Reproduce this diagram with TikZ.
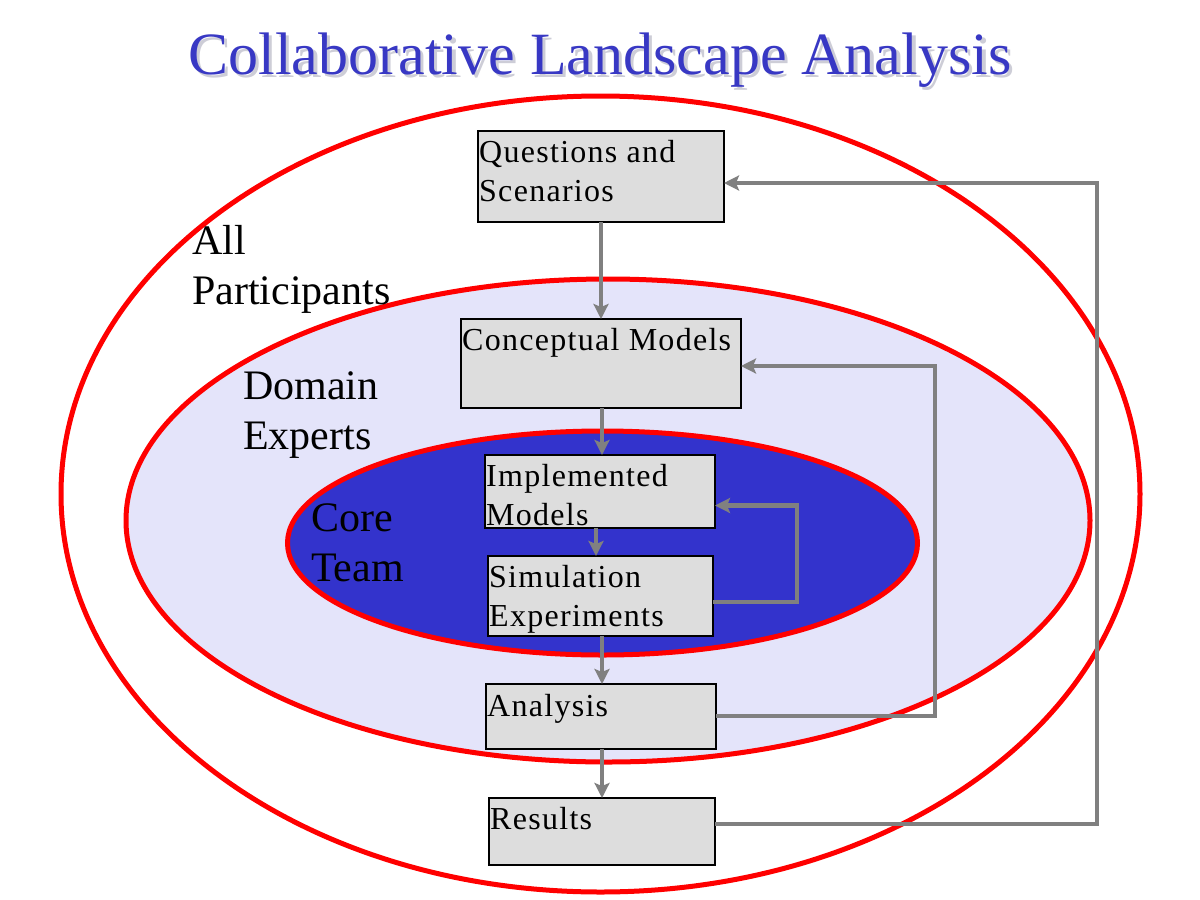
\documentclass[tikz,border=0pt]{standalone}
\usepackage{fontspec}
\setmainfont{Liberation Serif}
\newfontfamily\boxfont[LetterSpace=4]{Liberation Serif}
\usetikzlibrary{arrows.meta}
\definecolor{ringred}{RGB}{255,0,0}
\definecolor{lavender}{RGB}{228,228,250}
\definecolor{coreblue}{RGB}{51,51,204}
\definecolor{titleblue}{RGB}{56,56,196}
\definecolor{boxgray}{RGB}{221,221,221}
\definecolor{linegray}{RGB}{128,128,128}
\definecolor{shadowgray}{RGB}{205,205,215}
\tikzset{
  ring/.style={draw=ringred, line width=5pt},
  stepbox/.style={draw=black, line width=2pt, fill=boxgray, inner sep=0pt, outer sep=0pt},
  boxtxt/.style={anchor=base west, inner sep=0pt, font=\boxfont\fontsize{32}{39}\selectfont},
  grouptxt/.style={anchor=base west, inner sep=0pt, font=\fontsize{42}{50}\selectfont},
  flow/.style={draw=linegray, line width=4.5pt, -{Stealth[length=15pt,width=15pt,inset=3pt]}},
}
\begin{document}
\begin{tikzpicture}[x=1pt,y=-1pt]
\useasboundingbox (0,0) rectangle (1200,900);
\fill[white] (0,0) rectangle (1200,900);

% title
\node[anchor=base, inner sep=0pt, text=shadowgray, font=\fontsize{60}{72}\selectfont] (titleshadow) at (603.5,77.5) {Collaborative Landscape Analysis};
\node[anchor=base, inner sep=0pt, text=titleblue, font=\fontsize{60}{72}\selectfont] (title) at (600,74) {Collaborative Landscape Analysis};

% rings
\draw[ring, fill=white] (600.5,494) ellipse [x radius=539.5pt, y radius=398pt];
\draw[ring, fill=lavender] (608,520.5) ellipse [x radius=482pt, y radius=241.5pt];
\draw[ring, fill=coreblue] (602.5,543) ellipse [x radius=315pt, y radius=112pt];

% group labels
\node[grouptxt] (all1) at (192,254) {All};
\node[grouptxt] (all2) at (192,304) {Participants};
\node[grouptxt] (dom1) at (243,399) {Domain};
\node[grouptxt] (dom2) at (243,449) {Experts};
\node[grouptxt] (core1) at (311,531) {Core};
\node[grouptxt] (core2) at (311,581) {Team};

% boxes
\node[stepbox, minimum width=246pt, minimum height=91pt] (q) at (601,176.5) {};
\node[stepbox, minimum width=280pt, minimum height=89pt] (c) at (601,363.5) {};
\node[stepbox, minimum width=230pt, minimum height=73pt] (i) at (600,491.5) {};
\node[stepbox, minimum width=225pt, minimum height=80pt] (s) at (600.5,596) {};
\node[stepbox, minimum width=230pt, minimum height=65pt] (a) at (601,716.5) {};
\node[stepbox, minimum width=226pt, minimum height=67pt] (r) at (602,831.5) {};

% box texts
\node[boxtxt] (q1) at (479,162) {Questions and};
\node[boxtxt] (q2) at (479,201) {Scenarios};
\node[boxtxt] (c1) at (462,350) {Conceptual Models};
\node[boxtxt] (i1) at (486,486) {Implemented};
\node[boxtxt] (i2) at (486,525) {Models};
\node[boxtxt] (s1) at (489,587) {Simulation};
\node[boxtxt] (s2) at (489,626) {Experiments};
\node[boxtxt] (a1) at (487,716) {Analysis};
\node[boxtxt] (r1) at (490,829) {Results};

% main flow
\draw[flow] (q.south) -- (c.north);
\draw[flow] ([xshift=1pt]c.south) -- ([xshift=1pt]c.south |- i.north);
\draw[flow] ([xshift=-4pt]i.south) -- ([xshift=-4pt]i.south |- s.north);
\draw[flow] ([xshift=1.5pt]s.south) -- ([xshift=1.5pt]s.south |- a.north);
\draw[flow] ([xshift=1pt]a.south) -- ([xshift=1pt]a.south |- r.north);

% feedback loops
\draw[flow] ([yshift=-6pt]s.east) -- ++(84,0) |- ([yshift=-14pt]i.east);
\draw[flow] ([yshift=0.5pt]a.east) -- ++(219,0) |- ([yshift=-2.5pt]c.east);
\draw[flow] ([yshift=7.5pt]r.east) -- ++(382,0) |- ([yshift=-6.5pt]q.east);
\end{tikzpicture}
\end{document}
